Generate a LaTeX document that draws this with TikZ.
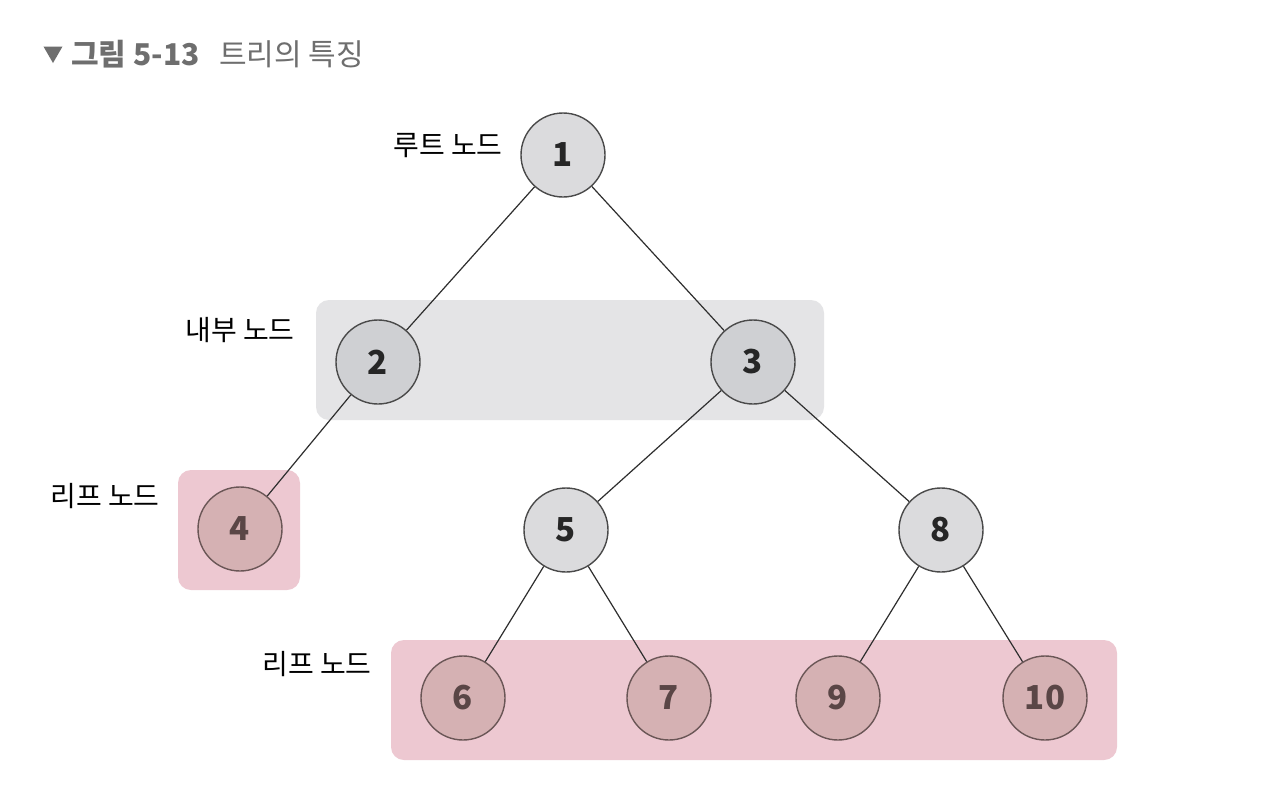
\documentclass[tikz,border=0pt]{standalone}
\usepackage{fontspec}
\setmainfont{Noto Sans CJK KR}
\usetikzlibrary{shapes.geometric}
\definecolor{titlegray}{HTML}{6E6E6E}
\definecolor{boxgray}{HTML}{E4E4E6}
\definecolor{boxpink}{HTML}{EDC8D1}
\definecolor{nodegray}{HTML}{DBDBDD}
\definecolor{nodegraydark}{HTML}{CFD0D3}
\definecolor{nodepink}{HTML}{D5B1B3}
\definecolor{strokegray}{HTML}{4A4A4A}
\definecolor{strokepink}{HTML}{6A5656}
\definecolor{leaftext}{HTML}{5A4646}
\definecolor{edgecol}{HTML}{2E2E2E}
\tikzset{
  x=1pt, y=-1pt,
  tnode/.style={circle, minimum size=84pt, inner sep=0pt, line width=1.4pt, draw=strokegray, fill=nodegray,
    font=\fontsize{33}{33}\selectfont\bfseries, text=black!85},
  inode/.style={tnode, fill=nodegraydark},
  lnode/.style={tnode, draw=strokepink, fill=nodepink, text=leaftext},
  grpbox/.style={rounded corners=13pt, draw=none},
  lbl/.style={font=\fontsize{28}{28}\selectfont, text=black, inner sep=0pt},
  edge/.style={draw=edgecol, line width=1.2pt},
  titletri/.style={regular polygon, regular polygon sides=3, shape border rotate=180, fill=titlegray, draw=none, inner sep=0pt, minimum size=22pt},
  titletext/.style={font=\fontsize{30}{30}\selectfont, text=titlegray, inner sep=0pt, anchor=west},
}
\begin{document}
\begin{tikzpicture}
\useasboundingbox (0,0) rectangle (1280,793);
\fill[white] (0,0) rectangle (1280,793);
% title
\node[titletri] (tri) at (53,52) {};
\node[titletext, font=\fontsize{30}{30}\selectfont\bfseries] (fig) at (71,54) {그림 5-13};
\node[titletext] (cap) at (219,54) {트리의 특징};
% group boxes
\fill[boxgray, grpbox] (316,300) rectangle (824,420);
\fill[boxpink, grpbox] (178,470) rectangle (300,590);
\fill[boxpink, grpbox] (391,640) rectangle (1117,760);
% nodes
\node[tnode] (n1) at (563,155) {1};
\node[inode] (n2) at (378,362) {2};
\node[inode] (n3) at (753,362) {3};
\node[lnode] (n4) at (240,529) {4};
\node[tnode] (n5) at (566,530) {5};
\node[tnode] (n8) at (941,530) {8};
\node[lnode] (n6) at (463,698) {6};
\node[lnode] (n7) at (669,698) {7};
\node[lnode] (n9) at (838,698) {9};
\node[lnode] (n10) at (1045,698) {10};
% edges
\draw[edge] (n1) -- (n2);
\draw[edge] (n1) -- (n3);
\draw[edge] (n2) -- (n4);
\draw[edge] (n3) -- (n5);
\draw[edge] (n3) -- (n8);
\draw[edge] (n5) -- (n6);
\draw[edge] (n5) -- (n7);
\draw[edge] (n8) -- (n9);
\draw[edge] (n8) -- (n10);
% labels
\node[lbl] (lroot) at (448,146) {루트 노드};
\node[lbl] (linner) at (240,330) {내부 노드};
\node[lbl] (lleaf1) at (105,496) {리프 노드};
\node[lbl] (lleaf2) at (317,664) {리프 노드};
\end{tikzpicture}
\end{document}
